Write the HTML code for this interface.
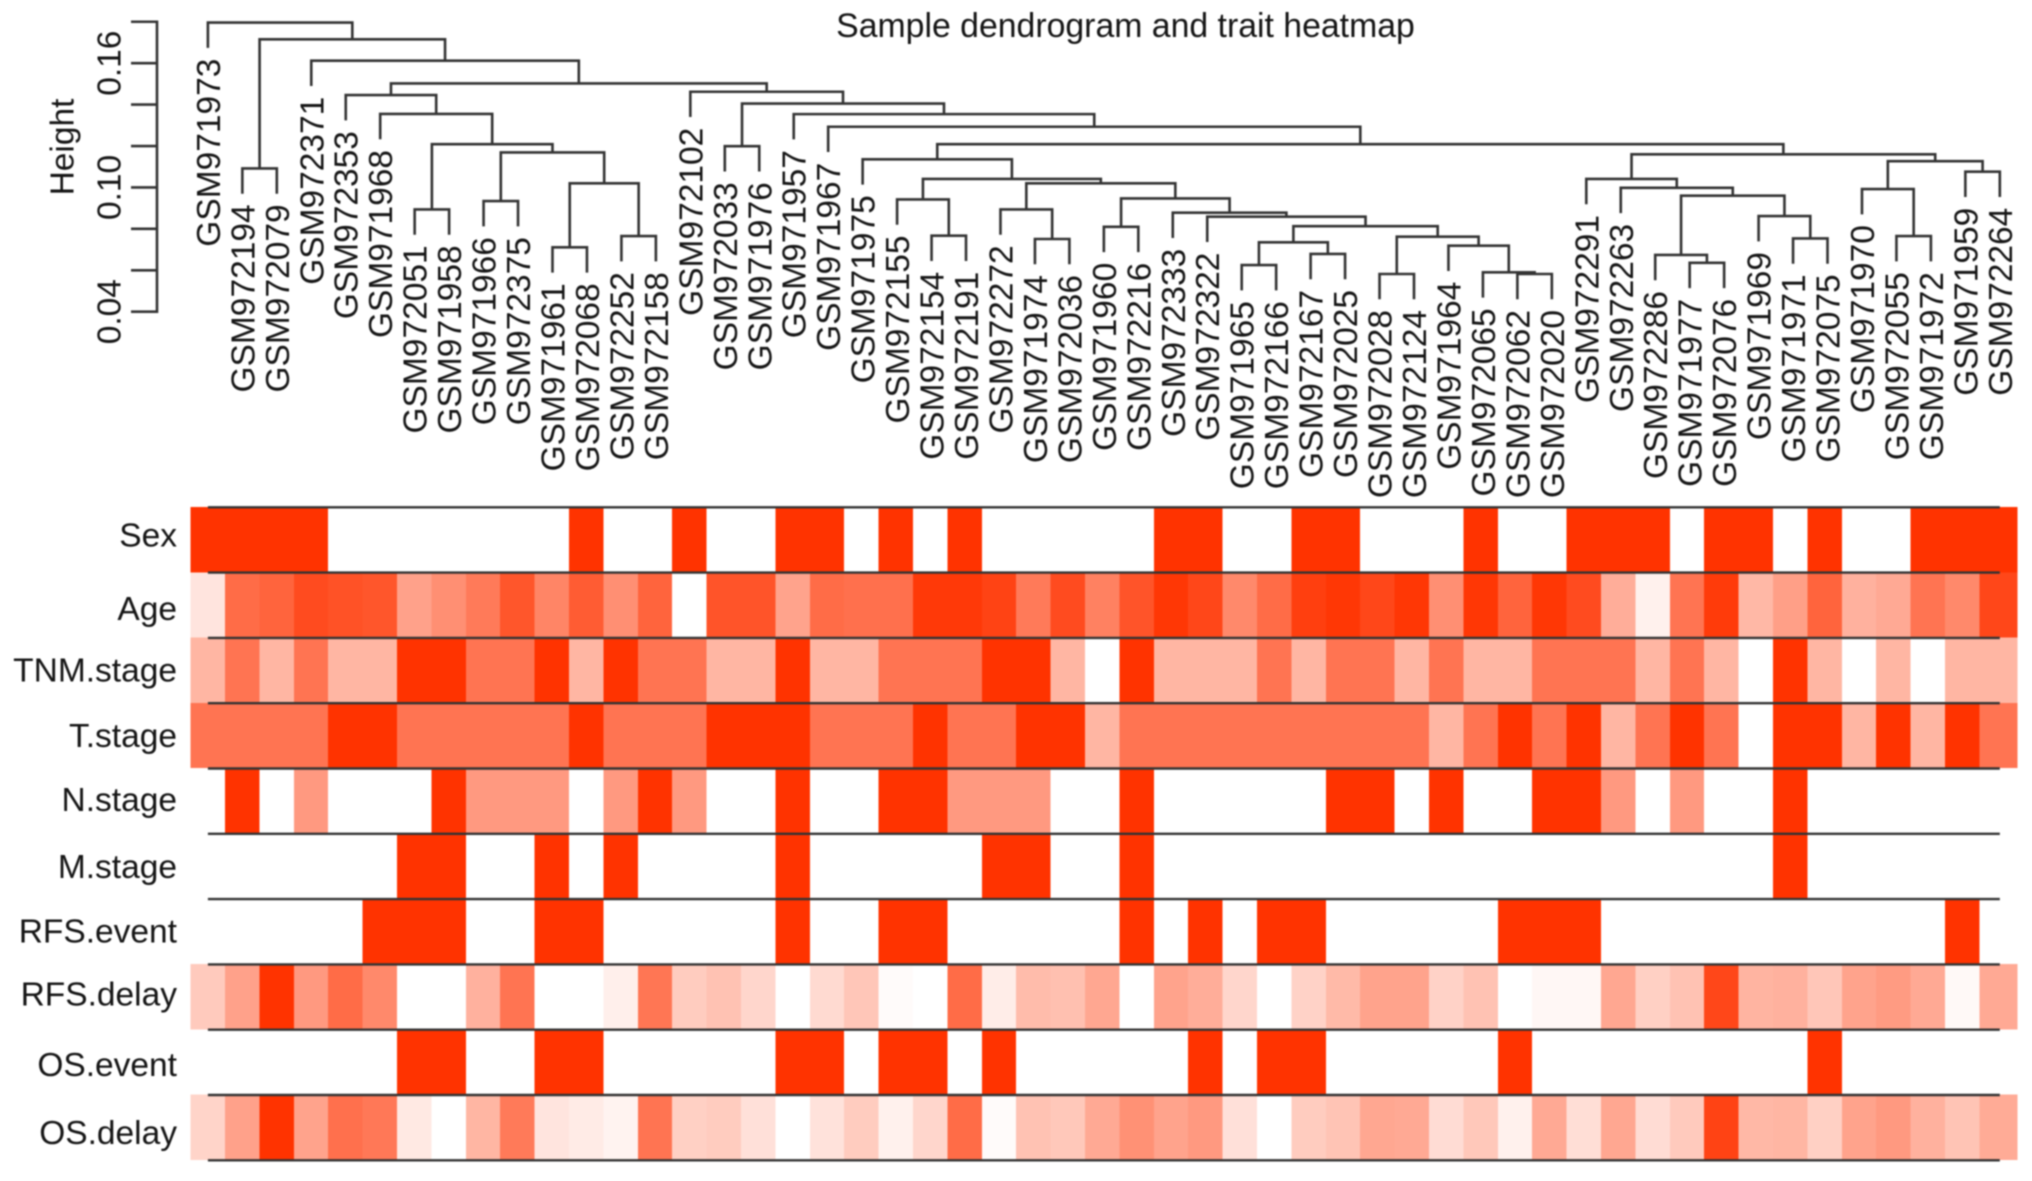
<!DOCTYPE html>
<html lang="en">
<head>
<meta charset="utf-8">
<title>Sample dendrogram and trait heatmap</title>
<style>
html,body{margin:0;padding:0;background:#fff;width:2032px;height:1181px;overflow:hidden}
svg{display:block;filter:blur(0.7px)}
text{font-family:"Liberation Sans",Arial,sans-serif;fill:#151515}
</style>
</head>
<body>
<svg id="chart" xmlns="http://www.w3.org/2000/svg" width="2032" height="1181" viewBox="0 0 2032 1181">
  <rect x="0" y="0" width="2032" height="1181" fill="#fff"/>
  <text x="1125.5" y="37" font-size="33.8" text-anchor="middle">Sample dendrogram and trait heatmap</text>
  <text transform="translate(73.5 147) rotate(-90)" font-size="33.5" text-anchor="middle">Height</text>
  <g id="heatmap"></g>
  <g id="rowLines"></g>
  <g id="dendrogram"></g>
  <g id="leafLabels"></g>
  <g id="yAxis"></g>
  <g font-size="33.5" text-anchor="end">
    <text x="177" y="546.7">Sex</text>
    <text x="177" y="620">Age</text>
    <text x="177" y="681.7">TNM.stage</text>
    <text x="177" y="747">T.stage</text>
    <text x="177" y="811">N.stage</text>
    <text x="177" y="878">M.stage</text>
    <text x="177" y="942.7">RFS.event</text>
    <text x="177" y="1005.7">RFS.delay</text>
    <text x="177" y="1076">OS.event</text>
    <text x="177" y="1144">OS.delay</text>
  </g>
</svg>
<script>
// ---- Data ----
const sampleLabels = ["GSM971973","GSM972194","GSM972079","GSM972371","GSM972353","GSM971968","GSM972051","GSM971958","GSM971966","GSM972375","GSM971961","GSM972068","GSM972252","GSM972158","GSM972102","GSM972033","GSM971976","GSM971957","GSM971967","GSM971975","GSM972155","GSM972154","GSM972191","GSM972272","GSM971974","GSM972036","GSM971960","GSM972216","GSM972333","GSM972322","GSM971965","GSM972166","GSM972167","GSM972025","GSM972028","GSM972124","GSM971964","GSM972065","GSM972062","GSM972020","GSM972291","GSM972263","GSM972286","GSM971977","GSM972076","GSM971969","GSM971971","GSM972075","GSM971970","GSM972055","GSM971972","GSM971959","GSM972264"];

// hclust-style merges: negative = leaf (1-based), positive = earlier merge (1-based)
const mergeLeft  = [-2,-7,-9,-11,-13,4,3,2,-6,-5,-16,-22,-21,-25,-24,-27,-31,-33,17,-35,-39,-38,-37,20,19,-30,-29,16,15,13,-20,-44,-43,-47,-46,33,-42,-41,-50,-49,-52,40,38,31,-19,-18,11,-15,10,-4,1,-1];
const mergeRight = [-3,-8,-10,-12,-14,5,6,7,8,9,-17,-23,12,-26,14,-28,-32,-34,18,-36,-40,21,22,23,24,25,26,27,28,29,30,-45,32,-48,34,35,36,37,-51,39,-53,41,42,43,44,45,46,47,48,49,50,51];
const mergeHeight = [0.1092,0.0894,0.0934,0.0711,0.0765,0.1020,0.1169,0.1209,0.1355,0.1446,0.1199,0.0767,0.0942,0.0751,0.0894,0.0810,0.0625,0.0679,0.0735,0.0582,0.0582,0.0590,0.0719,0.0762,0.0813,0.0859,0.0878,0.0947,0.1020,0.1041,0.1136,0.0636,0.0674,0.0754,0.0862,0.0960,0.0998,0.1041,0.0765,0.0992,0.1076,0.1127,0.1160,0.1209,0.1293,0.1354,0.1405,0.1462,0.1502,0.1612,0.1715,0.1796];

const yTicks = [0.04,0.06,0.08,0.10,0.12,0.14,0.16,0.18];
const yTickValues = [0.04,0.10,0.16];
const yTickLabels = ["0.04","0.10","0.16"];

const traitNames = ["sex","age","tnm-stage","t-stage","n-stage","m-stage","rfs-event","rfs-delay","os-event","os-delay"];

const sex = [1,1,1,1,0,0,0,0,0,0,0,1,0,0,1,0,0,1,1,0,1,0,1,0,0,0,0,0,1,1,0,0,1,1,0,0,0,1,0,0,1,1,1,0,1,1,0,1,0,0,1,1,1];
const age = [0.13,0.72,0.76,0.88,0.85,0.83,0.46,0.55,0.65,0.83,0.6,0.8,0.55,0.76,0,0.84,0.84,0.45,0.72,0.7,0.7,0.97,0.97,0.92,0.65,0.88,0.62,0.84,0.98,0.9,0.58,0.72,0.94,0.98,0.9,0.98,0.55,0.98,0.76,0.98,0.88,0.4,0.07,0.68,0.96,0.35,0.47,0.76,0.38,0.42,0.68,0.58,0.9];
const tnmStage = [0.36,0.68,0.36,0.68,0.36,0.36,1,1,0.68,0.68,1,0.36,1,0.68,0.68,0.36,0.36,1,0.36,0.36,0.68,0.68,0.68,1,1,0.36,0,1,0.36,0.36,0.36,0.68,0.36,0.68,0.68,0.36,0.68,0.36,0.36,0.68,0.68,0.68,0.36,0.68,0.36,0,1,0.36,0,0.36,0,0.36,0.36];
const tStage = [0.68,0.68,0.68,0.68,1,1,0.68,0.68,0.68,0.68,0.68,1,0.68,0.68,0.68,1,1,1,0.68,0.68,0.68,1,0.68,0.68,1,1,0.36,0.68,0.68,0.68,0.68,0.68,0.68,0.68,0.68,0.68,0.36,0.68,1,0.68,1,0.36,0.68,1,0.68,0,1,1,0.36,1,0.36,1,0.68];
const nStage = [0,1,0,0.5,0,0,0,1,0.5,0.5,0.5,0,0.5,1,0.5,0,0,1,0,0,1,1,0.5,0.5,0.5,0,0,1,0,0,0,0,0,1,1,0,1,0,0,1,1,0.5,0,0.5,0,0,1,0,0,0,0,0,0];
const mStage = [0,0,0,0,0,0,1,1,0,0,1,0,1,0,0,0,0,1,0,0,0,0,0,1,1,0,0,1,0,0,0,0,0,0,0,0,0,0,0,0,0,0,0,0,0,0,1,0,0,0,0,0,0];
const rfsEvent = [0,0,0,0,0,1,1,1,0,0,1,1,0,0,0,0,0,1,0,0,1,1,0,0,0,0,0,1,0,1,0,1,1,0,0,0,0,0,1,1,1,0,0,0,0,0,0,0,0,0,0,1,0];
const rfsDelay = [0.26,0.46,1,0.5,0.72,0.58,0,0,0.38,0.68,0,0,0.08,0.67,0.25,0.3,0.2,0,0.18,0.28,0.02,0,0.72,0.09,0.33,0.31,0.43,0,0.45,0.4,0.2,0,0.22,0.34,0.45,0.45,0.22,0.3,0,0.04,0.04,0.43,0.23,0.3,0.9,0.37,0.38,0.28,0.45,0.49,0.42,0.03,0.42];
const osEvent = [0,0,0,0,0,0,1,1,0,0,1,1,0,0,0,0,0,1,1,0,1,1,0,1,0,0,0,0,0,1,0,1,1,0,0,0,0,0,1,0,0,0,0,0,0,0,0,1,0,0,0,0,0];
const osDelay = [0.21,0.46,1,0.45,0.7,0.66,0.11,0,0.36,0.65,0.13,0.1,0.06,0.68,0.23,0.25,0.15,0,0.14,0.25,0.07,0.2,0.72,0.02,0.3,0.27,0.42,0.54,0.45,0.5,0.15,0,0.25,0.29,0.43,0.42,0.17,0.27,0.07,0.42,0.16,0.43,0.17,0.26,0.92,0.35,0.36,0.23,0.45,0.5,0.38,0.29,0.41];

// ---- Axis functions ----
const SVGNS = "http://www.w3.org/2000/svg";
const colWidth = 34.4;
const heatRight = 2017.4;
const rowTop = 507;
const rowHeight = 65.3;
function xCol(i){ return 190.6 + i * colWidth; }
function colSpan(i){ return i === sampleLabels.length - 1 ? heatRight - xCol(i) : colWidth; }
function xLeaf(i){ return 207.9 + i * 34.46; }
function yRow(r){ return rowTop + r * rowHeight; }
function yHeight(h){ return 311.7 - (h - 0.04) * 2071; }
function heatColor(v){
  const g = Math.round(255 + (51 - 255) * v);
  const b = Math.round(255 * (1 - v));
  return "rgb(255," + g + "," + b + ")";
}
function make(tag, attrs){
  const el = document.createElementNS(SVGNS, tag);
  for (const k in attrs) el.setAttribute(k, attrs[k]);
  return el;
}

// ---- Heatmap ----
const heatmap = document.getElementById("heatmap");
const traitRows = [sex, age, tnmStage, tStage, nStage, mStage, rfsEvent, rfsDelay, osEvent, osDelay];
traitRows.forEach(function(values, r){
  values.forEach(function(v, c){
    if (v <= 0) return;
    const cell = make("rect", {x: xCol(c).toFixed(2), y: yRow(r).toFixed(2), width: colSpan(c).toFixed(2), height: rowHeight.toFixed(2), fill: heatColor(v), "shape-rendering": "crispEdges"});
    
    
    heatmap.appendChild(cell);
  });
});

// ---- Row lines ----
const rowLines = document.getElementById("rowLines");
for (let r = 0; r <= traitRows.length; r++) {
  const rowLine = make("line", {x1: xLeaf(0), x2: xLeaf(sampleLabels.length - 1), y1: yRow(r) + 0.3, y2: yRow(r) + 0.3, stroke: "#333", "stroke-width": 2.4});
  
  
  rowLines.appendChild(rowLine);
}

// ---- Dendrogram ----
const dendrogram = document.getElementById("dendrogram");
const leafLabels = document.getElementById("leafLabels");
const hangPx = 25.3;
const labelGapPx = 10.7;
const nodeX = [];
const nodeH = [];
function childX(ref){ return ref < 0 ? xLeaf(-ref - 1) : nodeX[ref - 1]; }
function childBottom(ref, parentY){ return ref < 0 ? parentY + hangPx : yHeight(nodeH[ref - 1]); }
function drawLeafLabel(ref, parentY){
  if (ref >= 0) return;
  const i = -ref - 1;
  const x = xLeaf(i);
  const y = parentY + hangPx + labelGapPx;
  const leafText = make("text", {transform: "translate(" + (x + 12).toFixed(2) + " " + y.toFixed(2) + ") rotate(-90)", "font-size": 33.5, "text-anchor": "end"});
  leafText.textContent = sampleLabels[i];
  
  
  leafLabels.appendChild(leafText);
}
mergeHeight.forEach(function(h, m){
  const a = mergeLeft[m];
  const b = mergeRight[m];
  const xa = childX(a);
  const xb = childX(b);
  const y = yHeight(h);
  nodeX[m] = (xa + xb) / 2;
  nodeH[m] = h;
  const d = "M" + xa.toFixed(2) + " " + childBottom(a, y).toFixed(2) + "V" + y.toFixed(2) + "H" + xb.toFixed(2) + "V" + childBottom(b, y).toFixed(2);
  const branch = make("path", {d: d, fill: "none", stroke: "#333", "stroke-width": 2.6});
  
  
  dendrogram.appendChild(branch);
  drawLeafLabel(a, y);
  drawLeafLabel(b, y);
});

// ---- Y axis ----
const yAxis = document.getElementById("yAxis");
const axisLine = make("line", {x1: 157, x2: 157, y1: yHeight(yTicks[0]) + 1.3, y2: yHeight(yTicks[yTicks.length - 1]) - 1.3, stroke: "#333", "stroke-width": 2.6});


yAxis.appendChild(axisLine);
yTicks.forEach(function(t){
  const tick = make("line", {x1: 131, x2: 158, y1: yHeight(t), y2: yHeight(t), stroke: "#333", "stroke-width": 2.6});
  
  
  yAxis.appendChild(tick);
});
yTickValues.forEach(function(t, i){
  const tickLabel = make("text", {transform: "translate(120.5 " + yHeight(t).toFixed(2) + ") rotate(-90)", "font-size": 33.5, "text-anchor": "middle"});
  tickLabel.textContent = yTickLabels[i];
  
  
  yAxis.appendChild(tickLabel);
});
</script>
</body>
</html>
